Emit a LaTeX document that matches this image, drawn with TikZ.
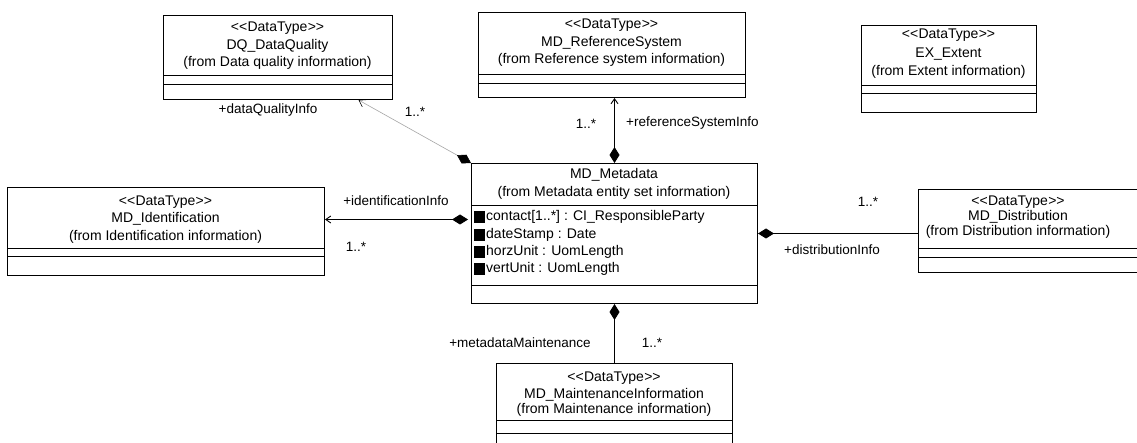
\documentclass[tikz,border=0pt]{standalone}
\usepackage{fontspec}
\setmainfont{Liberation Sans}
\usetikzlibrary{arrows.meta,calc}
\newcommand\stereo{<\kern0pt<\kern0.3pt DataType\kern0.3pt>\kern0pt>}
\begin{document}
\begin{tikzpicture}[x=1pt,y=-1pt,
  classbox/.style={draw=black,line width=1pt,anchor=north west,inner sep=0pt},
  sepline/.style={draw=black,line width=0.8pt},
  txt/.style={font=\fontsize{14}{16}\selectfont,inner sep=0pt},
  attrtxt/.style={font=\fontsize{14}{16}\selectfont,inner sep=0pt,anchor=west},
  rolelbl/.style={font=\fontsize{13.5}{15}\selectfont,inner sep=0pt},
  assoc/.style={draw=black,line width=0.9pt},
  wholediamond/.style={{Diamond[length=16pt,width=10pt,fill=black]}-},
  navwhole/.style={{Diamond[length=16pt,width=10pt,fill=black]}-{Straight Barb[length=5pt,width=7pt]}},
  attrsq/.style={fill=black,minimum width=11pt,minimum height=12pt,inner sep=0pt}
]
\useasboundingbox[fill=white] (0,0) rectangle (1137,443);

% DQ_DataQuality
\node[classbox,minimum width=229pt,minimum height=84pt] (dq) at (163,15) {};
\draw[sepline] (163,75) -- (392,75);
\draw[sepline] (163,84) -- (392,84);
\node[txt] (dqs) at (277.5,28) {\stereo};
\node[txt] (dqn) at (277.5,46) {DQ\_DataQuality};
\node[txt] (dqf) at (277.5,63) {(from Data quality information)};

% MD_ReferenceSystem
\node[classbox,minimum width=267pt,minimum height=85pt] (rs) at (478,12) {};
\draw[sepline] (478,74) -- (745,74);
\draw[sepline] (478,83) -- (745,83);
\node[txt] (rss) at (611.5,25) {\stereo};
\node[txt] (rsn) at (611.5,43) {MD\_ReferenceSystem};
\node[txt] (rsf) at (611.5,60) {(from Reference system information)};

% EX_Extent
\node[classbox,minimum width=175pt,minimum height=87pt] (ex) at (861,25) {};
\draw[sepline] (861,85) -- (1036,85);
\draw[sepline] (861,93) -- (1036,93);
\node[txt] (exs) at (948.5,35) {\stereo};
\node[txt] (exn) at (948.5,54) {EX\_Extent};
\node[txt] (exf) at (948.5,72) {(from Extent information)};

% MD_Identification
\node[classbox,minimum width=317pt,minimum height=88pt] (id) at (7,187) {};
\draw[sepline] (7,248) -- (324,248);
\draw[sepline] (7,256) -- (324,256);
\node[txt] (ids) at (165.5,202) {\stereo};
\node[txt] (idn) at (165.5,219) {MD\_Identification};
\node[txt] (idf) at (165.5,237) {(from Identification information)};

% MD_Metadata
\node[classbox,minimum width=286pt,minimum height=140pt] (mdm) at (471,163) {};
\draw[sepline] (471,205) -- (757,205);
\draw[sepline] (471,285) -- (757,285);
\node[txt] (mdmn) at (614,175) {MD\_Metadata};
\node[txt] (mdmf) at (614,193) {(from Metadata entity set information)};
\node[attrsq] (sq1) at (479,217) {};
\node[attrsq] (sq2) at (479,235) {};
\node[attrsq] (sq3) at (479,252) {};
\node[attrsq] (sq4) at (479,269) {};
\node[attrtxt] (at1) at (486,217) {contact[1..*] : CI\_ResponsibleParty};
\node[attrtxt] (at2) at (486,235) {dateStamp : Date};
\node[attrtxt] (at3) at (486,252) {horzUnit : UomLength};
\node[attrtxt] (at4) at (486,269) {vertUnit : UomLength};

% MD_Distribution
\node[classbox,minimum width=230pt,minimum height=83pt] (dist) at (918,189) {};
\draw[sepline] (918,248) -- (1148,248);
\draw[sepline] (918,257) -- (1148,257);
\node[txt] (dists) at (1018,202) {\stereo};
\node[txt] (distn) at (1018,217) {MD\_Distribution};
\node[txt] (distf) at (1018,232) {(from Distribution information)};

% MD_MaintenanceInformation
\node[classbox,minimum width=236pt,minimum height=85pt] (mi) at (496,363) {};
\draw[sepline] (496,420) -- (732,420);
\draw[sepline] (496,433) -- (732,433);
\node[txt] (mis) at (614,378) {\stereo};
\node[txt] (min) at (614,395) {MD\_MaintenanceInformation};
\node[txt] (mif) at (614,410) {(from Maintenance information)};

% connectors
\draw[assoc,navwhole] (mdm.north) -- (mdm.north |- rs.south);
\coordinate (idA) at ($(mdm.west)+(0,-14)$);
\draw[assoc,navwhole,shorten <=3pt] (idA) -- (idA -| id.east);
\draw[assoc,wholediamond] (mdm.east) -- (mdm.east -| dist.west);
\draw[assoc,wholediamond] (mdm.south) -- (mdm.south |- mi.north);
\coordinate (dqA) at ($(dq.south west)!0.85!(dq.south east)$);
\draw[draw=black!35,line width=0.6pt,{Diamond[length=16pt,width=10pt,fill=black,color=black]}-{Straight Barb[length=6pt,width=8pt,color=black]}] (mdm.north west) -- (dqA);

% role labels and multiplicities
\node[rolelbl] (l1) at (268,110) {+dataQualityInfo};
\node[rolelbl] (m1) at (415,112) {1..*};
\node[rolelbl,anchor=west] (l2) at (626,123) {+referenceSystemInfo};
\node[rolelbl] (m2) at (586,124) {1..*};
\node[rolelbl] (l3) at (396,201) {+identificationInfo};
\node[rolelbl] (m3) at (356,247) {1..*};
\node[rolelbl] (l4) at (832,250) {+distributionInfo};
\node[rolelbl] (m4) at (868,202) {1..*};
\node[rolelbl] (l5) at (520,343) {+metadataMaintenance};
\node[rolelbl] (m5) at (652,343) {1..*};
\end{tikzpicture}
\end{document}
